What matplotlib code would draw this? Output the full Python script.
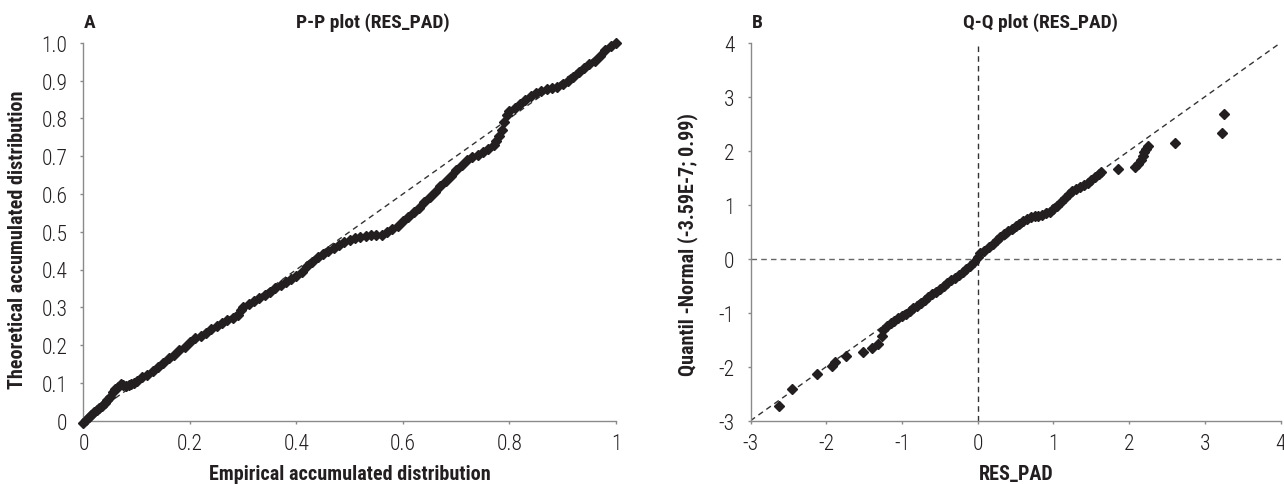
import numpy as np
import matplotlib
matplotlib.use("Agg")
import matplotlib.pyplot as plt
from matplotlib import font_manager

# pick a condensed face when there is one, DejaVu otherwise
names = {f.name for f in font_manager.fontManager.ttflist}
fam = "DejaVu Sans"
for n in ["Roboto Condensed", "Archivo Narrow", "PT Sans Narrow", "Asap Condensed",
          "Liberation Sans Narrow"]:
    if n in names:
        fam = n
        break
plt.rcParams['font.family'] = [fam, "DejaVu Sans"]
plt.rcParams['axes.unicode_minus'] = False

# ---- data ----
# P-P plot (empirical vs theoretical accumulated distribution)
pp_emp = [0.000, 0.005, 0.010, 0.015, 0.020, 0.025, 0.030, 0.035, 0.040, 0.045,
          0.050, 0.055, 0.060, 0.065, 0.070, 0.075, 0.080, 0.085, 0.090, 0.095,
          0.100, 0.110, 0.120, 0.130, 0.140, 0.150, 0.160, 0.170, 0.180, 0.190,
          0.200, 0.210, 0.220, 0.230, 0.240, 0.250, 0.260, 0.270, 0.280, 0.290,
          0.295, 0.300, 0.310, 0.320, 0.330, 0.340, 0.350, 0.360, 0.370, 0.380,
          0.390, 0.400, 0.410, 0.420, 0.430, 0.440, 0.450, 0.460, 0.470, 0.480,
          0.490, 0.500, 0.510, 0.520, 0.530, 0.540, 0.550, 0.560, 0.570, 0.580,
          0.590, 0.600, 0.610, 0.620, 0.630, 0.640, 0.650, 0.660, 0.670, 0.680,
          0.690, 0.700, 0.710, 0.720, 0.730, 0.740, 0.750, 0.760, 0.770, 0.775,
          0.780, 0.785, 0.790, 0.795, 0.800, 0.810, 0.820, 0.830, 0.840, 0.850,
          0.860, 0.870, 0.880, 0.890, 0.900, 0.910, 0.920, 0.930, 0.940, 0.950,
          0.960, 0.970, 0.980, 0.990, 1.000]
pp_theo = [-0.005, 0.003, 0.010, 0.016, 0.022, 0.028, 0.034, 0.040, 0.046, 0.055,
           0.062, 0.075, 0.085, 0.090, 0.096, 0.095, 0.092, 0.094, 0.098, 0.100,
           0.105, 0.115, 0.122, 0.132, 0.142, 0.152, 0.165, 0.175, 0.186, 0.196,
           0.208, 0.218, 0.224, 0.232, 0.242, 0.250, 0.258, 0.266, 0.272, 0.280,
           0.292, 0.300, 0.308, 0.316, 0.324, 0.332, 0.340, 0.350, 0.358, 0.366,
           0.374, 0.384, 0.394, 0.408, 0.420, 0.432, 0.442, 0.448, 0.456, 0.466,
           0.474, 0.478, 0.484, 0.486, 0.488, 0.490, 0.490, 0.492, 0.498, 0.506,
           0.516, 0.528, 0.540, 0.552, 0.564, 0.578, 0.592, 0.606, 0.620, 0.634,
           0.648, 0.662, 0.676, 0.690, 0.698, 0.704, 0.712, 0.720, 0.730, 0.740,
           0.752, 0.770, 0.790, 0.808, 0.818, 0.828, 0.838, 0.848, 0.858, 0.866,
           0.872, 0.878, 0.880, 0.884, 0.892, 0.900, 0.910, 0.922, 0.934, 0.944,
           0.952, 0.966, 0.980, 0.990, 1.000]

# Q-Q plot (RES_PAD vs normal quantile)
qq_res = [-2.62, -2.45, -2.12, -1.92, -1.88, -1.74, -1.52, -1.40, -1.32, -1.27,
          -1.25, -1.20, -1.15, -1.10, -1.05, -1.00, -0.95, -0.90, -0.85, -0.80,
          -0.75, -0.70, -0.65, -0.60, -0.55, -0.50, -0.45, -0.40, -0.35, -0.30,
          -0.25, -0.20, -0.15, -0.10, -0.05, 0.00, 0.03, 0.08, 0.15, 0.20,
          0.25, 0.30, 0.35, 0.40, 0.45, 0.50, 0.55, 0.60, 0.65, 0.70,
          0.75, 0.80, 0.85, 0.90, 0.95, 1.00, 1.05, 1.10, 1.15, 1.20,
          1.25, 1.30, 1.35, 1.40, 1.45, 1.50, 1.55, 1.60, 1.63, 1.85,
          2.07, 2.12, 2.15, 2.18, 2.20, 2.22, 2.25, 2.60, 3.23, 3.25]
qq_norm = [-2.73, -2.41, -2.14, -1.99, -1.91, -1.80, -1.73, -1.65, -1.58, -1.43,
           -1.32, -1.24, -1.19, -1.15, -1.10, -1.06, -1.02, -0.97, -0.92, -0.87,
           -0.82, -0.77, -0.71, -0.66, -0.61, -0.56, -0.51, -0.45, -0.40, -0.35,
           -0.30, -0.25, -0.19, -0.13, -0.06, 0.04, 0.10, 0.15, 0.22, 0.28,
           0.35, 0.41, 0.46, 0.51, 0.55, 0.60, 0.64, 0.70, 0.74, 0.77,
           0.79, 0.80, 0.81, 0.84, 0.87, 0.92, 0.98, 1.05, 1.12, 1.20,
           1.26, 1.30, 1.33, 1.37, 1.41, 1.46, 1.52, 1.57, 1.61, 1.66,
           1.69, 1.75, 1.82, 1.90, 1.97, 2.03, 2.08, 2.15, 2.32, 2.68]

pp_yticks = [0, 0.1, 0.2, 0.3, 0.4, 0.5, 0.6, 0.7, 0.8, 0.9, 1.0]
pp_ylabels = ["0", "0.1", "0.2", "0.3", "0.4", "0.5", "0.6", "0.7", "0.8", "0.9", "1.0"]
pp_xticks = [0, 0.2, 0.4, 0.6, 0.8, 1]
pp_xlabels = ["0", "0.2", "0.4", "0.6", "0.8", "1"]
qq_ticks = [-3, -2, -1, 0, 1, 2, 3, 4]

W, H = 1284, 485
mk = '#231f20'
dash = '#333333'
spine = '#8a8a8a'
txt = '#231f20'

fig = plt.figure(figsize=(W / 100, H / 100), dpi=100)
axA = fig.add_axes([83.5 / W, (H - 421.7) / H, 532.5 / W, 378 / H])
axB = fig.add_axes([750.5 / W, (H - 421.7) / H, 530.2 / W, 378 / H])

def style(ax):
    for s in ['top', 'right']:
        ax.spines[s].set_visible(False)
    for s in ['left', 'bottom']:
        ax.spines[s].set_color(spine)
        ax.spines[s].set_linewidth(1.0)
    ax.tick_params(direction='out', length=2.5, width=1, color=spine,
                   labelsize=15.5, labelcolor=txt)
    ax.tick_params(axis='y', pad=9)
    ax.tick_params(axis='x', pad=6)
    for lab in ax.get_xticklabels() + ax.get_yticklabels():
        lab.set_fontweight('light')

# --- A: P-P plot
axA.plot([0, 1], [0, 1], ls=(0, (4, 3)), lw=1.0, color=dash, zorder=2)
axA.plot(pp_emp, pp_theo, ls='none', marker='D', ms=5.4, color=mk,
         mec=mk, clip_on=False, zorder=3)
axA.set_xlim(0, 1)
axA.set_ylim(0, 1)
axA.set_xticks(pp_xticks, pp_xlabels)
axA.set_yticks(pp_yticks, pp_ylabels)
style(axA)

# --- B: Q-Q plot
axB.plot([-3, 4], [-3, 4], ls=(0, (4, 3)), lw=1.0, color=dash, zorder=2)
axB.plot([-3, 4], [0, 0], ls=(0, (4, 3)), lw=1.0, color='#666666', zorder=2)
axB.plot([0, 0], [-3, 4], ls=(0, (4, 3)), lw=1.0, color=dash, zorder=2)
axB.plot(qq_res, qq_norm, ls='none', marker='D', ms=5.2, color=mk,
         mec=mk, clip_on=False, zorder=3)
axB.set_xlim(-3, 4)
axB.set_ylim(-3, 4)
axB.set_xticks(qq_ticks, [str(t) for t in qq_ticks])
axB.set_yticks(qq_ticks, [str(t) for t in qq_ticks])
style(axB)

# titles and labels
ttl = dict(fontsize=14, fontweight='bold', color=txt)
lbl = dict(fontsize=14.5, fontweight='bold', color=txt)
ty = 1 - 23 / H
fig.text(84 / W, ty, "A", ha='left', va='center', **ttl)
fig.text(373 / W, ty, "P-P plot (RES_PAD)", ha='center', va='center', **ttl)
fig.text(752 / W, ty, "B", ha='left', va='center', **ttl)
fig.text(1040 / W, ty, "Q-Q plot (RES_PAD)", ha='center', va='center', **ttl)

fig.text(350 / W, 5 / H, "Empirical accumulated distribution", ha='center',
         va='baseline', **lbl)
fig.text(1016 / W, 5 / H, "RES_PAD", ha='center', va='baseline', **lbl)
fig.text(18 / W, 1 - 240 / H, "Theoretical accumulated distribution", ha='center',
         va='center', rotation=90, **lbl)
fig.text(688 / W, 1 - 245 / H, "Quantil -Normal (-3.59E-7; 0.99)", ha='center',
         va='center', rotation=90, **lbl)

fig.savefig("out.png", dpi=100)
